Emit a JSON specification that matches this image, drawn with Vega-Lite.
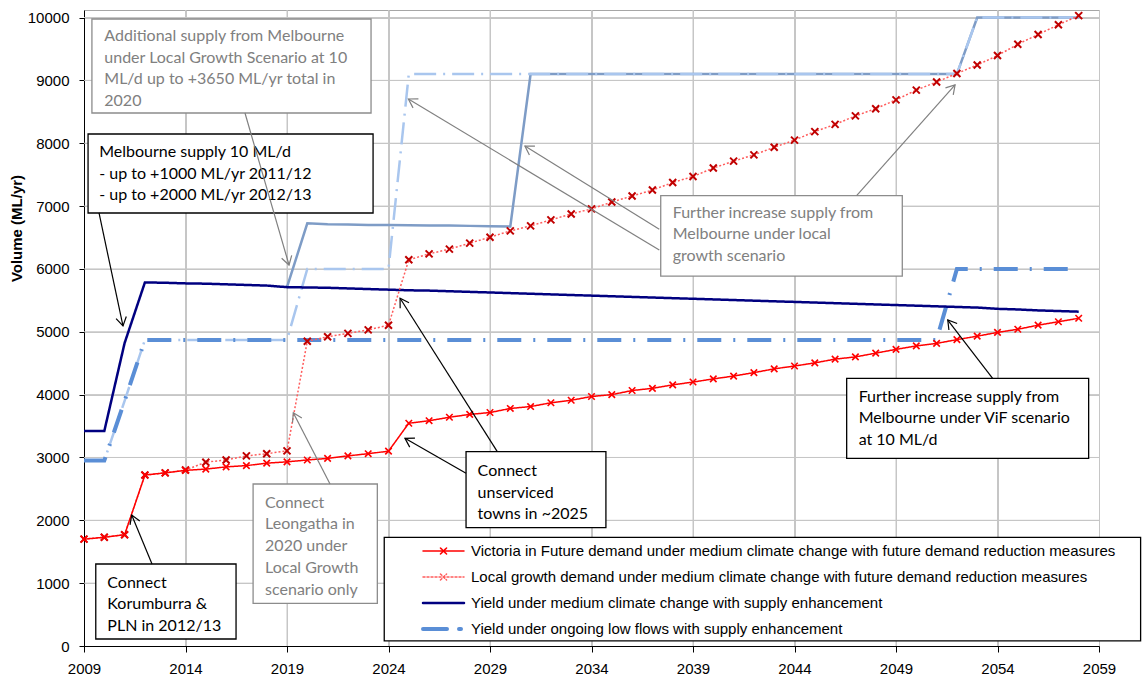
{
  "$schema": "https://vega.github.io/schema/vega-lite/v6.json",
  "width": 1015,
  "height": 636,
  "autosize": {"type": "none"},
  "padding": {"left": 84, "top": 10, "right": 45, "bottom": 35},
  "config": {
    "view": {"stroke": "#A6A6A6"},
    "numberFormat": "d",
    "axis": {
      "gridColor": "#C6C6C6",
      "domainColor": "#000000",
      "tickColor": "#000000",
      "labelFont": "Liberation Sans", "labelFontSize": 15, "labelColor": "#000000",
      "labelFlush": false, "labelOverlap": false
    }
  },
  "resolve": {"axis": {"x": "independent", "y": "independent"}},
  "datasets": {
    "gridX": [{"year": 2014}, {"year": 2019}, {"year": 2024}, {"year": 2029}, {"year": 2034}, {"year": 2039}, {"year": 2044}, {"year": 2049}, {"year": 2054}],
    "gridY": [{"v": 1000}, {"v": 2000}, {"v": 3000}, {"v": 4000}, {"v": 5000}, {"v": 6000}, {"v": 7000}, {"v": 8000}, {"v": 9000}, {"v": 10000}],
    "series": [
      {"year": 2009, "vif": 1700, "lg": 1700, "ym": 3420, "ylf": 2950, "lglf": 2950, "lgym": null},
      {"year": 2010, "vif": 1730, "lg": 1730, "ym": 3420, "ylf": 2950, "lglf": 2950, "lgym": null},
      {"year": 2011, "vif": 1770, "lg": 1770, "ym": 4820, "ylf": 3900, "lglf": 3900, "lgym": null},
      {"year": 2012, "vif": 2720, "lg": 2720, "ym": 5785, "ylf": 4870, "lglf": 4870, "lgym": null},
      {"year": 2013, "vif": 2755, "lg": 2755, "ym": 5780, "ylf": 4870, "lglf": 4870, "lgym": null},
      {"year": 2014, "vif": 2795, "lg": 2800, "ym": 5770, "ylf": 4870, "lglf": 4870, "lgym": null},
      {"year": 2015, "vif": 2815, "lg": 2925, "ym": 5765, "ylf": 4870, "lglf": 4870, "lgym": null},
      {"year": 2016, "vif": 2850, "lg": 2960, "ym": 5755, "ylf": 4870, "lglf": 4870, "lgym": null},
      {"year": 2017, "vif": 2870, "lg": 3025, "ym": 5745, "ylf": 4870, "lglf": 4870, "lgym": null},
      {"year": 2018, "vif": 2910, "lg": 3060, "ym": 5735, "ylf": 4870, "lglf": 4870, "lgym": null},
      {"year": 2019, "vif": 2930, "lg": 3105, "ym": 5710, "ylf": 4870, "lglf": 4870, "lgym": 5710},
      {"year": 2020, "vif": 2960, "lg": 4850, "ym": 5705, "ylf": 4870, "lglf": 6000, "lgym": 6725},
      {"year": 2021, "vif": 2985, "lg": 4920, "ym": 5700, "ylf": 4870, "lglf": 6000, "lgym": 6710},
      {"year": 2022, "vif": 3025, "lg": 4975, "ym": 5690, "ylf": 4870, "lglf": 6000, "lgym": 6705},
      {"year": 2023, "vif": 3060, "lg": 5030, "ym": 5680, "ylf": 4870, "lglf": 6000, "lgym": 6700},
      {"year": 2024, "vif": 3100, "lg": 5105, "ym": 5670, "ylf": 4870, "lglf": 6000, "lgym": 6700},
      {"year": 2025, "vif": 3545, "lg": 6145, "ym": 5660, "ylf": 4870, "lglf": 9100, "lgym": 6695},
      {"year": 2026, "vif": 3585, "lg": 6240, "ym": 5655, "ylf": 4870, "lglf": 9100, "lgym": 6690},
      {"year": 2027, "vif": 3640, "lg": 6315, "ym": 5645, "ylf": 4870, "lglf": 9100, "lgym": 6690},
      {"year": 2028, "vif": 3685, "lg": 6410, "ym": 5635, "ylf": 4870, "lglf": 9100, "lgym": 6685},
      {"year": 2029, "vif": 3715, "lg": 6505, "ym": 5625, "ylf": 4870, "lglf": 9100, "lgym": 6680},
      {"year": 2030, "vif": 3780, "lg": 6605, "ym": 5615, "ylf": 4870, "lglf": 9100, "lgym": 6675},
      {"year": 2031, "vif": 3810, "lg": 6685, "ym": 5605, "ylf": 4870, "lglf": 9100, "lgym": 9100},
      {"year": 2032, "vif": 3870, "lg": 6780, "ym": 5595, "ylf": 4870, "lglf": 9100, "lgym": 9100},
      {"year": 2033, "vif": 3910, "lg": 6875, "ym": 5585, "ylf": 4870, "lglf": 9100, "lgym": 9100},
      {"year": 2034, "vif": 3970, "lg": 6955, "ym": 5575, "ylf": 4870, "lglf": 9100, "lgym": 9100},
      {"year": 2035, "vif": 4000, "lg": 7065, "ym": 5565, "ylf": 4870, "lglf": 9100, "lgym": 9100},
      {"year": 2036, "vif": 4065, "lg": 7160, "ym": 5555, "ylf": 4870, "lglf": 9100, "lgym": 9100},
      {"year": 2037, "vif": 4100, "lg": 7255, "ym": 5545, "ylf": 4870, "lglf": 9100, "lgym": 9100},
      {"year": 2038, "vif": 4155, "lg": 7375, "ym": 5535, "ylf": 4870, "lglf": 9100, "lgym": 9100},
      {"year": 2039, "vif": 4200, "lg": 7470, "ym": 5525, "ylf": 4870, "lglf": 9100, "lgym": 9100},
      {"year": 2040, "vif": 4250, "lg": 7605, "ym": 5515, "ylf": 4870, "lglf": 9100, "lgym": 9100},
      {"year": 2041, "vif": 4295, "lg": 7715, "ym": 5505, "ylf": 4870, "lglf": 9100, "lgym": 9100},
      {"year": 2042, "vif": 4350, "lg": 7815, "ym": 5495, "ylf": 4870, "lglf": 9100, "lgym": 9100},
      {"year": 2043, "vif": 4410, "lg": 7935, "ym": 5485, "ylf": 4870, "lglf": 9100, "lgym": 9100},
      {"year": 2044, "vif": 4455, "lg": 8050, "ym": 5475, "ylf": 4870, "lglf": 9100, "lgym": 9100},
      {"year": 2045, "vif": 4505, "lg": 8185, "ym": 5465, "ylf": 4870, "lglf": 9100, "lgym": 9100},
      {"year": 2046, "vif": 4565, "lg": 8300, "ym": 5455, "ylf": 4870, "lglf": 9100, "lgym": 9100},
      {"year": 2047, "vif": 4600, "lg": 8435, "ym": 5445, "ylf": 4870, "lglf": 9100, "lgym": 9100},
      {"year": 2048, "vif": 4660, "lg": 8550, "ym": 5435, "ylf": 4870, "lglf": 9100, "lgym": 9100},
      {"year": 2049, "vif": 4720, "lg": 8690, "ym": 5425, "ylf": 4870, "lglf": 9100, "lgym": 9100},
      {"year": 2050, "vif": 4775, "lg": 8845, "ym": 5415, "ylf": 4870, "lglf": 9100, "lgym": 9100},
      {"year": 2051, "vif": 4815, "lg": 8975, "ym": 5405, "ylf": 4870, "lglf": 9100, "lgym": 9100},
      {"year": 2052, "vif": 4875, "lg": 9110, "ym": 5395, "ylf": 6000, "lglf": 9100, "lgym": 9100},
      {"year": 2053, "vif": 4930, "lg": 9245, "ym": 5385, "ylf": 6000, "lglf": 10000, "lgym": 10000},
      {"year": 2054, "vif": 4990, "lg": 9395, "ym": 5365, "ylf": 6000, "lglf": 10000, "lgym": 10000},
      {"year": 2055, "vif": 5040, "lg": 9575, "ym": 5355, "ylf": 6000, "lglf": 10000, "lgym": 10000},
      {"year": 2056, "vif": 5105, "lg": 9730, "ym": 5340, "ylf": 6000, "lglf": 10000, "lgym": 10000},
      {"year": 2057, "vif": 5160, "lg": 9885, "ym": 5330, "ylf": 6000, "lglf": 10000, "lgym": 10000},
      {"year": 2058, "vif": 5215, "lg": 10030, "ym": 5320, "ylf": 6000, "lglf": 10000, "lgym": 10000}
    ],
    "notesGray": [
      {"x": 2009.39, "x2": 2023.14, "y": 9977, "y2": 8481, "tx": 2010.0, "ty": 9834, "text": "Additional supply from  Melbourne\nunder Local Growth Scenario at 10\nML/d up to +3650 ML/yr total in\n2020"},
      {"x": 2017.33, "x2": 2023.45, "y": 2578, "y2": 679, "tx": 2017.92, "ty": 2407, "text": "Connect\nLeongatha in\n2020 under\nLocal Growth\nscenario only"},
      {"x": 2037.41, "x2": 2049.31, "y": 7165, "y2": 5887, "tx": 2038.0, "ty": 7022, "text": "Further increase supply from\nMelbourne under local\ngrowth scenario"}
    ],
    "notesBlack": [
      {"x": 2009.2, "x2": 2023.24, "y": 8147, "y2": 6890, "tx": 2009.75, "ty": 7988, "text": "Melbourne supply 10 ML/d\n- up to +1000  ML/yr 2011/12\n- up to +2000  ML/yr 2012/13"},
      {"x": 2009.58, "x2": 2016.49, "y": 1305, "y2": 111, "tx": 2010.15, "ty": 1135, "text": "Connect\nKorumburra &\nPLN in 2012/13"},
      {"x": 2027.82, "x2": 2034.71, "y": 3092, "y2": 1882, "tx": 2028.39, "ty": 2912, "text": "Connect\nunserviced\ntowns in  ~2025"},
      {"x": 2046.57, "x2": 2058.49, "y": 4260, "y2": 2987, "tx": 2047.16, "ty": 4094, "text": "Further increase supply from\nMelbourne under ViF scenario\nat 10 ML/d"}
    ],
    "legendBox": [
      {"x": 2023.79, "x2": 2061.05, "y": 1730, "y2": 80}
    ],
    "arrowsGray": [
      {"x": 2016.93, "y": 8481, "x2": 2019.1, "y2": 6062, "angle": 164},
      {"x": 2021.12, "y": 2578, "x2": 2019.31, "y2": 3712, "angle": -27},
      {"x": 2037.34, "y": 6630, "x2": 2030.72, "y2": 7956, "angle": -58},
      {"x": 2037.34, "y": 6301, "x2": 2024.98, "y2": 8704, "angle": -59},
      {"x": 2047.06, "y": 7165, "x2": 2051.91, "y2": 8927, "angle": 42}
    ],
    "arrowsBlack": [
      {"x": 2009.74, "y": 6890, "x2": 2010.92, "y2": 5092, "angle": 168},
      {"x": 2012.35, "y": 1305, "x2": 2011.35, "y2": 2084, "angle": -22},
      {"x": 2027.82, "y": 2748, "x2": 2024.81, "y2": 3305, "angle": -60},
      {"x": 2029.36, "y": 3092, "x2": 2024.57, "y2": 5533, "angle": -32},
      {"x": 2053.76, "y": 4260, "x2": 2051.55, "y2": 5187, "angle": -38}
    ]
  },
  "layer": [
    {
      "data": {"name": "gridX"},
      "mark": {"type": "rule", "color": "#C6C6C6", "strokeWidth": 1},
      "encoding": {
        "x": {"field": "year", "type": "quantitative", "scale": {"domain": [2009, 2059], "nice": false, "zero": false}, "axis": null}
      }
    },
    {
      "data": {"name": "gridY"},
      "mark": {"type": "rule", "color": "#C6C6C6", "strokeWidth": 1},
      "encoding": {
        "y": {"field": "v", "type": "quantitative", "scale": {"domain": [0, 10120], "nice": false}, "axis": null}
      }
    },
    {
      "data": {"name": "series"},
      "mark": {"type": "line", "color": "#7E9CC6", "strokeWidth": 2.5},
      "encoding": {
        "x": {"field": "year", "type": "quantitative", "scale": {"domain": [2009, 2059], "nice": false, "zero": false},
              "axis": {"values": [2009, 2014, 2019, 2024, 2029, 2034, 2039, 2044, 2049, 2054, 2059], "title": null, "grid": true, "tickSize": 6, "labelPadding": 9}},
        "y": {"field": "lgym", "type": "quantitative", "scale": {"domain": [0, 10120], "nice": false},
              "axis": {"values": [0, 1000, 2000, 3000, 4000, 5000, 6000, 7000, 8000, 9000, 10000], "title": "Volume (ML/yr)", "grid": true, "labelPadding": 10, "titleFont": "Liberation Sans", "titleFontSize": 15, "titleFontWeight": "bold", "titleColor": "#000000", "titlePadding": 3, "titleY": 218}}
      }
    },
    {
      "data": {"name": "series"},
      "mark": {"type": "line", "color": "#A9C6EE", "strokeWidth": 2.5, "strokeDash": [22, 7, 2, 7]},
      "encoding": {
        "x": {"field": "year", "type": "quantitative", "scale": {"domain": [2009, 2059], "nice": false, "zero": false}, "axis": null},
        "y": {"field": "lglf", "type": "quantitative", "scale": {"domain": [0, 10120], "nice": false}, "axis": null}
      }
    },
    {
      "data": {"name": "series"},
      "transform": [{"fold": ["ylf", "ym", "lg", "vif"], "as": ["series", "value"]}],
      "mark": {"type": "line"},
      "encoding": {
        "x": {"field": "year", "type": "quantitative", "scale": {"domain": [2009, 2059], "nice": false, "zero": false}, "axis": null},
        "y": {"field": "value", "type": "quantitative", "scale": {"domain": [0, 10120], "nice": false}, "axis": null},
        "color": {"field": "series", "type": "nominal",
                  "scale": {"domain": ["vif", "lg", "ym", "ylf"], "range": ["#FF0000", "#FF5C5C", "#000080", "#5A8ED6"]},
                  "legend": {
                    "orient": "none", "legendX": 337, "legendY": 528, "title": null,
                    "padding": 0, "rowPadding": 0, "clipHeight": 26,
                    "symbolType": "stroke", "symbolSize": 1681,
                    "labelFont": "Liberation Sans", "labelFontSize": 15, "labelColor": "#000000", "labelLimit": 900, "labelOffset": 5,
                    "labelExpr": "datum.value == 'vif' ? 'Victoria in Future demand under medium climate change with future demand reduction measures' : datum.value == 'lg' ? 'Local growth demand  under medium climate change with future demand reduction measures' : datum.value == 'ym' ? 'Yield under medium climate change with supply enhancement' : 'Yield under ongoing low flows with supply enhancement'",
                    "encode": {"symbols": {"update": {
                      "shape": {"signal": "datum.value == 'vif' || datum.value == 'lg' ? 'M-1,0H1M-0.15,-0.15L0.15,0.15M-0.15,0.15L0.15,-0.15' : 'M-1,0H1'"},
                      "strokeCap": {"value": "round"}
                    }}}
                  }},
        "strokeDash": {"field": "series", "type": "nominal",
                       "scale": {"domain": ["vif", "lg", "ym", "ylf"], "range": [[1, 0], [2, 2], [1, 0], [24, 12, 2, 12]]}},
        "strokeWidth": {"field": "series", "type": "ordinal",
                        "scale": {"type": "ordinal", "domain": ["vif", "lg", "ym", "ylf"], "range": [1.5, 1.5, 2.5, 4]}}
      }
    },
    {
      "data": {"name": "series"},
      "mark": {"type": "point", "shape": "M-1,-1L1,1M-1,1L1,-1", "filled": false, "stroke": "#C00000", "strokeWidth": 2, "size": 49, "opacity": 1},
      "encoding": {
        "x": {"field": "year", "type": "quantitative", "scale": {"domain": [2009, 2059], "nice": false, "zero": false}, "axis": null},
        "y": {"field": "lg", "type": "quantitative", "scale": {"domain": [0, 10120], "nice": false}, "axis": null}
      }
    },
    {
      "data": {"name": "series"},
      "mark": {"type": "point", "shape": "M-1,-1L1,1M-1,1L1,-1", "filled": false, "stroke": "#FF0000", "strokeWidth": 1.6, "size": 42, "opacity": 1},
      "encoding": {
        "x": {"field": "year", "type": "quantitative", "scale": {"domain": [2009, 2059], "nice": false, "zero": false}, "axis": null},
        "y": {"field": "vif", "type": "quantitative", "scale": {"domain": [0, 10120], "nice": false}, "axis": null}
      }
    },
    {
      "data": {"name": "legendBox"},
      "mark": {"type": "rect", "fill": "white", "stroke": "#000000", "strokeWidth": 1.3},
      "encoding": {
        "x": {"field": "x", "type": "quantitative", "scale": {"domain": [2009, 2059], "nice": false, "zero": false}, "axis": null},
        "x2": {"field": "x2"},
        "y": {"field": "y", "type": "quantitative", "scale": {"domain": [0, 10120], "nice": false}, "axis": null},
        "y2": {"field": "y2"}
      }
    },
    {
      "data": {"name": "notesGray"},
      "mark": {"type": "rect", "fill": "white", "stroke": "#8C8C8C", "strokeWidth": 1.3},
      "encoding": {
        "x": {"field": "x", "type": "quantitative", "scale": {"domain": [2009, 2059], "nice": false, "zero": false}, "axis": null},
        "x2": {"field": "x2"},
        "y": {"field": "y", "type": "quantitative", "scale": {"domain": [0, 10120], "nice": false}, "axis": null},
        "y2": {"field": "y2"}
      }
    },
    {
      "data": {"name": "notesBlack"},
      "mark": {"type": "rect", "fill": "white", "stroke": "#000000", "strokeWidth": 1.3},
      "encoding": {
        "x": {"field": "x", "type": "quantitative", "scale": {"domain": [2009, 2059], "nice": false, "zero": false}, "axis": null},
        "x2": {"field": "x2"},
        "y": {"field": "y", "type": "quantitative", "scale": {"domain": [0, 10120], "nice": false}, "axis": null},
        "y2": {"field": "y2"}
      }
    },
    {
      "data": {"name": "notesGray"},
      "mark": {"type": "text", "font": "Lato", "fontSize": 16, "color": "#808080", "align": "left", "baseline": "top", "lineBreak": "\n", "lineHeight": 21.7},
      "encoding": {
        "x": {"field": "tx", "type": "quantitative", "scale": {"domain": [2009, 2059], "nice": false, "zero": false}, "axis": null},
        "y": {"field": "ty", "type": "quantitative", "scale": {"domain": [0, 10120], "nice": false}, "axis": null},
        "text": {"field": "text"}
      }
    },
    {
      "data": {"name": "notesBlack"},
      "mark": {"type": "text", "font": "Lato", "fontSize": 16, "color": "#000000", "align": "left", "baseline": "top", "lineBreak": "\n", "lineHeight": 21.7},
      "encoding": {
        "x": {"field": "tx", "type": "quantitative", "scale": {"domain": [2009, 2059], "nice": false, "zero": false}, "axis": null},
        "y": {"field": "ty", "type": "quantitative", "scale": {"domain": [0, 10120], "nice": false}, "axis": null},
        "text": {"field": "text"}
      }
    },
    {
      "data": {"name": "arrowsGray"},
      "mark": {"type": "rule", "color": "#808080", "strokeWidth": 1.2},
      "encoding": {
        "x": {"field": "x", "type": "quantitative", "scale": {"domain": [2009, 2059], "nice": false, "zero": false}, "axis": null},
        "y": {"field": "y", "type": "quantitative", "scale": {"domain": [0, 10120], "nice": false}, "axis": null},
        "x2": {"field": "x2"},
        "y2": {"field": "y2"}
      }
    },
    {
      "data": {"name": "arrowsGray"},
      "mark": {"type": "point", "shape": "M-0.55,0.9L0,0L0.55,0.9", "filled": false, "stroke": "#808080", "strokeWidth": 1.2, "size": 361, "opacity": 1},
      "encoding": {
        "x": {"field": "x2", "type": "quantitative", "scale": {"domain": [2009, 2059], "nice": false, "zero": false}, "axis": null},
        "y": {"field": "y2", "type": "quantitative", "scale": {"domain": [0, 10120], "nice": false}, "axis": null},
        "angle": {"field": "angle", "type": "quantitative", "scale": null}
      }
    },
    {
      "data": {"name": "arrowsBlack"},
      "mark": {"type": "rule", "color": "#000000", "strokeWidth": 1.2},
      "encoding": {
        "x": {"field": "x", "type": "quantitative", "scale": {"domain": [2009, 2059], "nice": false, "zero": false}, "axis": null},
        "y": {"field": "y", "type": "quantitative", "scale": {"domain": [0, 10120], "nice": false}, "axis": null},
        "x2": {"field": "x2"},
        "y2": {"field": "y2"}
      }
    },
    {
      "data": {"name": "arrowsBlack"},
      "mark": {"type": "point", "shape": "M-0.55,0.9L0,0L0.55,0.9", "filled": false, "stroke": "#000000", "strokeWidth": 1.2, "size": 361, "opacity": 1},
      "encoding": {
        "x": {"field": "x2", "type": "quantitative", "scale": {"domain": [2009, 2059], "nice": false, "zero": false}, "axis": null},
        "y": {"field": "y2", "type": "quantitative", "scale": {"domain": [0, 10120], "nice": false}, "axis": null},
        "angle": {"field": "angle", "type": "quantitative", "scale": null}
      }
    }
  ]
}
